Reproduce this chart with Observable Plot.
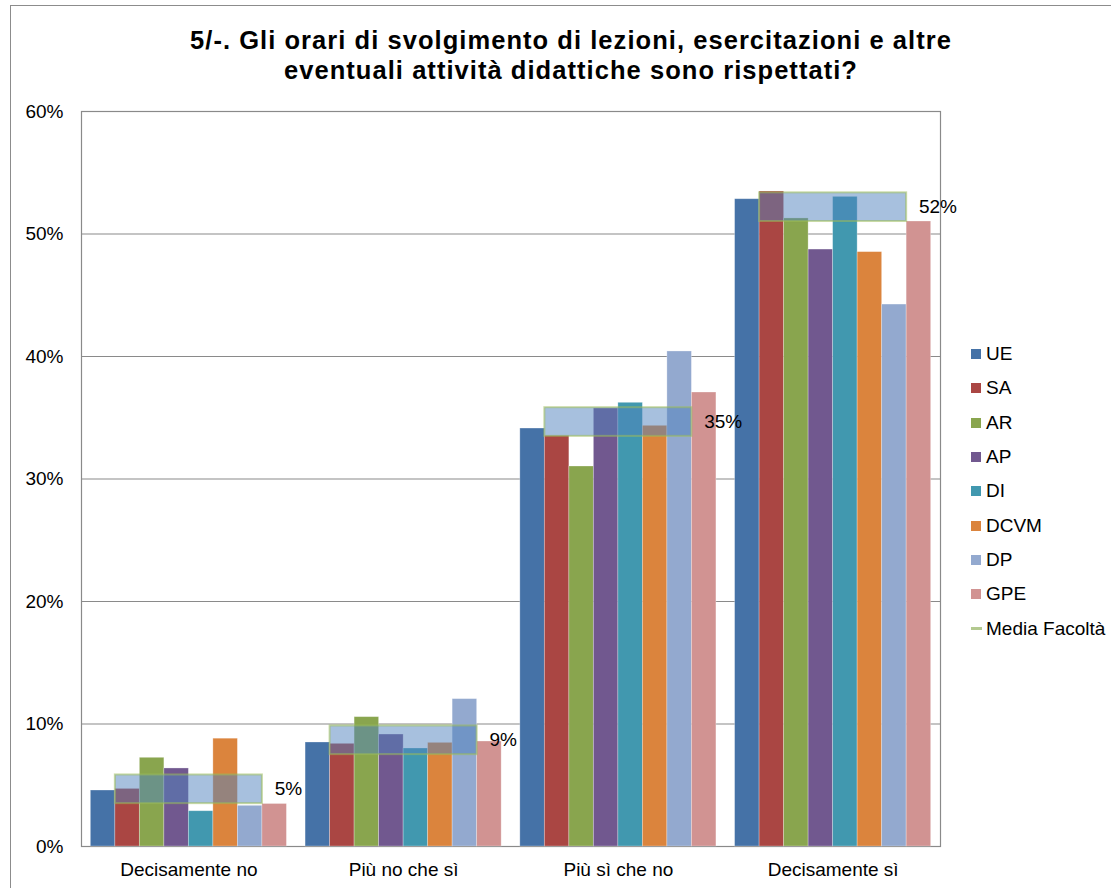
<!DOCTYPE html>
<html>
<head>
<meta charset="utf-8">
<script src="https://cdn.jsdelivr.net/npm/d3@7"></script>
<script src="https://cdn.jsdelivr.net/npm/@observablehq/plot@0.6"></script>
<style>
  html, body { margin: 0; padding: 0; background: #fff; overflow: hidden; }
  body { width: 1111px; height: 888px; position: relative; font-family: "Liberation Sans", Arial, sans-serif; color: #000; }
  #border { position: absolute; left: 10px; top: 5px; width: 1200px; height: 1000px; border: 1.5px solid #8c8c8c; box-sizing: border-box; }
  #title { position: absolute; left: 0; top: 24.5px; width: 1142px; text-align: center; font-weight: bold; font-size: 25.5px; line-height: 30px; letter-spacing: 1.05px; }
  .layer { position: absolute; left: 0; top: 95px; }
  #legend { position: absolute; left: 971px; top: 337px; font-size: 19px; }
  .item { height: 34.3px; display: flex; align-items: center; white-space: nowrap; }
  .sw { width: 10px; height: 10px; margin-right: 5px; flex: none; }
  .ln { width: 11px; height: 3px; margin-right: 4px; flex: none; }
</style>
</head>
<body>
<div id="border"></div>
<div id="title">5/-. Gli orari di svolgimento di lezioni, esercitazioni e altre<br>eventuali attività didattiche sono rispettati?</div>
<div id="bg" class="layer"></div>
<div id="fg" class="layer"></div>
<div id="legend"></div>
<script>
const categories = ["Decisamente no", "Più no che sì", "Più sì che no", "Decisamente sì"];
const series = ["UE", "SA", "AR", "AP", "DI", "DCVM", "DP", "GPE"];
const colors = ["#4572A7", "#AA4643", "#89A54E", "#71588F", "#4198AF", "#DB843D", "#93A9CF", "#D19392"];

const UE   = [4.57, 8.49, 34.12, 52.84];
const SA   = [4.70, 8.38, 33.52, 53.47];
const AR   = [7.24, 10.56, 31.02, 51.27];
const AP   = [6.37, 9.14, 35.76, 48.73];
const DI   = [2.88, 8.00, 36.22, 53.03];
const DCVM = [8.80, 8.46, 34.34, 48.52];
const DP   = [3.32, 12.03, 40.41, 44.24];
const GPE  = [3.47, 8.57, 37.06, 51.02];

const mediaName = "Media Facoltà";
const media = [4.67, 8.67, 34.65, 52.19];
const mediaLabels = ["5%", "9%", "35%", "52%"];

const yTicks = [0, 10, 20, 30, 40, 50, 60];

const seriesValues = [UE, SA, AR, AP, DI, DCVM, DP, GPE];
const table = [];
series.forEach((s, i) => categories.forEach((c, j) => table.push({cat: c, s, v: seriesValues[i][j]})));
const mediaTable = categories.map((c, j) => ({cat: c, v: media[j], label: mediaLabels[j]}));

const W = 960, H = 793;
const common = {
  width: W, height: H,
  marginLeft: 81, marginRight: 20, marginTop: 16, marginBottom: 42,
  style: {fontSize: "19px", fontFamily: '"Liberation Sans", Arial, sans-serif', color: "#000", background: "transparent"}
};
const bandHalf = 1.17;

const bg = Plot.plot({
  ...common,
  x: {domain: categories, paddingInner: 0.087, paddingOuter: 0.0435, round: false, label: null, tickSize: 0, tickPadding: 16},
  y: {domain: [0, 60], ticks: yTicks, tickFormat: d => d + "%", tickSize: 0, tickPadding: 18, label: null},
  marks: [
    Plot.ruleY(yTicks, {stroke: "#8a8a8a", strokeWidth: 1.2}),
    Plot.frame({stroke: "#8a8a8a", strokeWidth: 1.2})
  ]
});
document.getElementById("bg").appendChild(bg);

const fg = Plot.plot({
  ...common,
  fx: {domain: categories, paddingInner: 0.087, paddingOuter: 0.0435, round: false, axis: null, label: null},
  x: {domain: series, padding: 0, round: false, axis: null},
  y: {domain: [0, 60], axis: null},
  color: {domain: series, range: colors},
  marks: [
    Plot.barY(table, {fx: "cat", x: "s", y: "v", fill: "s", stroke: "#fff", strokeOpacity: 0.35, strokeWidth: 0.8}),
    Plot.rect(mediaTable, {fx: "cat", x1: () => "SA", x2: () => "DP", y1: d => d.v - bandHalf, y2: d => d.v + bandHalf,
      fill: "#4F81BD", fillOpacity: 0.5, stroke: "#9BBB59", strokeOpacity: 0.55, strokeWidth: 2}),
    Plot.text(mediaTable, {fx: "cat", x: () => "GPE", y: "v", text: "label", textAnchor: "start", fill: "#000", fontSize: 19})
  ]
});
document.getElementById("fg").appendChild(fg);

const legend = document.getElementById("legend");
series.forEach((s, i) => {
  const it = document.createElement("div");
  it.className = "item";
  it.innerHTML = `<span class="sw" style="background:${colors[i]}"></span><span>${s}</span>`;
  legend.appendChild(it);
});
const mi = document.createElement("div");
mi.className = "item";
mi.innerHTML = `<span class="ln" style="background:#B3C98F"></span><span>${mediaName}</span>`;
legend.appendChild(mi);
</script>
</body>
</html>
